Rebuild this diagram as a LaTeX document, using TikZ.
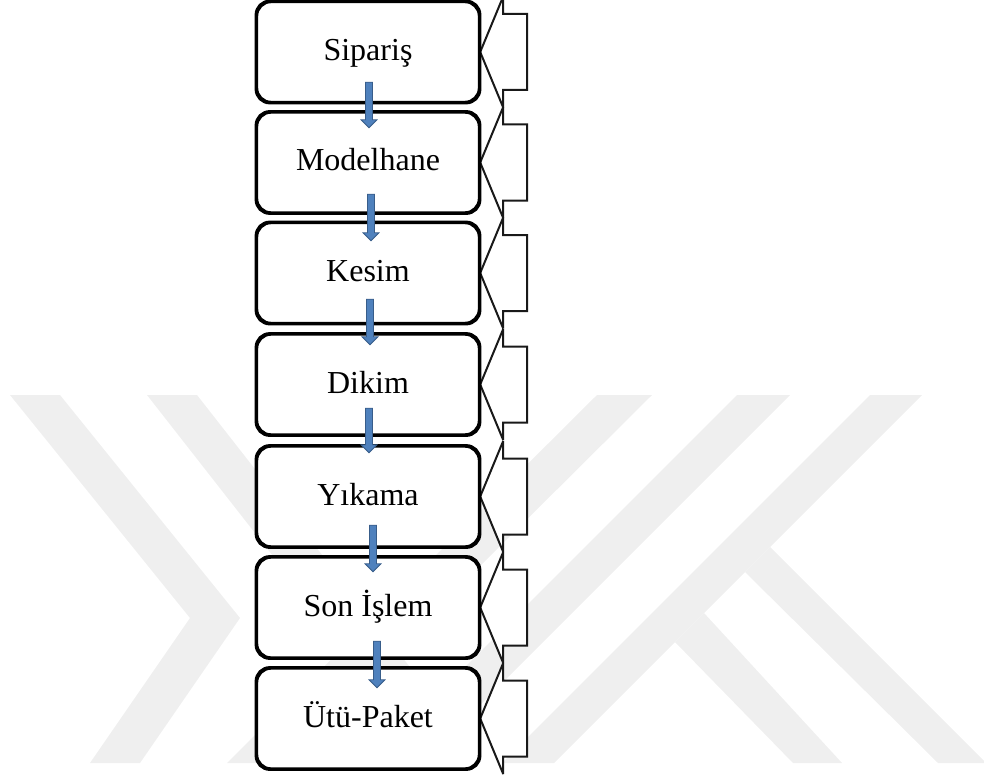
\documentclass[tikz,border=0pt]{standalone}
\usepackage{fontspec}
\setmainfont{Liberation Serif}
\usetikzlibrary{calc}

\definecolor{markgray}{RGB}{239,239,239}
\definecolor{arrowfill}{RGB}{79,129,189}
\definecolor{arrowline}{RGB}{56,93,138}

\tikzset{
  stagebox/.style={draw=black, line width=2.4pt, fill=white, rounded corners=14pt,
    minimum width=222pt, minimum height=100pt, inner sep=0pt,
    text height=22pt, text depth=5pt,
    font=\fontsize{32pt}{38pt}\selectfont},
  sidecallout/.style={draw=black!90, line width=2pt, fill=white, line join=miter, miter limit=4},
  blockarrow/.style={fill=arrowfill, draw=arrowline, line width=0.8pt, line join=miter},
  markband/.style={fill=markgray, draw=none}
}

% block arrow: #1 source node, #2 target node, #3 x shift,
% #4 start above #1.south, #5 tip below #2.north
\newcommand\flowarrow[5]{%
  \path let \p1=($(#1.south)+(#3,#4)$), \p2=($(#2.north)+(#3,-#5)$) in
    [blockarrow] (\x1-3.5pt,\y1) -- (\x1+3.5pt,\y1) -- (\x1+3.5pt,\y2+8pt)
    -- (\x1+8pt,\y2+8pt) -- (\x1,\y2) -- (\x1-8pt,\y2+8pt)
    -- (\x1-3.5pt,\y2+8pt) -- cycle;}

% left-pointing callout on the right side of a stage box
\newcommand\sidetag[1]{%
  \draw[sidecallout] (#1.east) -- ++(23pt,55.5pt) -- ++(0pt,-17.5pt)
    -- ++(24pt,0pt) -- ++(0pt,-76pt) -- ++(-24pt,0pt) -- ++(0pt,-17.5pt) -- cycle;}

\begin{document}
\begin{tikzpicture}[x=1pt,y=-1pt]
\useasboundingbox (0,0) rectangle (984,778);

% background logo bands
\fill[markband] (10,395) -- (60,395) -- (240,618) -- (140,763) -- (90,763) -- (190,618) -- cycle;
\fill[markband] (147,395) -- (197,395) -- (420,680) -- (370,680) -- cycle;
\fill[markband] (597,395) -- (652,395) -- (282,763) -- (227,763) -- cycle;
\fill[markband] (737,395) -- (790,395) -- (422,763) -- (369,763) -- cycle;
\fill[markband] (870,395) -- (922,395) -- (554,763) -- (502,763) -- cycle;
\fill[markband] (770,547) -- (986,763) -- (938,763) -- (745,572) -- cycle;
\fill[markband] (704,613) -- (842,763) -- (793,763) -- (675,642) -- cycle;

% stage boxes
\node[stagebox] (s1) at (368,52)    {Sipariş};
\node[stagebox] (s2) at (368,162.5) {Modelhane};
\node[stagebox] (s3) at (368,273)   {Kesim};
\node[stagebox] (s4) at (368,384.5) {Dikim};
\node[stagebox] (s5) at (368,496.5) {Yıkama};
\node[stagebox] (s6) at (368,607.5) {Son İşlem};
\node[stagebox] (s7) at (368,718.5) {Ütü-Paket};

% callouts
\foreach \s in {s1,s2,s3,s4,s5,s6,s7} {\sidetag{\s}}

% redraw boxes over the callout tips
\foreach \s in {s1,s2,s3,s4,s5,s6,s7} {
  \draw[line width=2.4pt, rounded corners=14pt] (\s.south west) rectangle (\s.north east);}

% flow arrows
\flowarrow{s1}{s2}{1pt}{21pt}{16.5pt}
\flowarrow{s2}{s3}{3pt}{19.5pt}{19pt}
\flowarrow{s3}{s4}{2pt}{25pt}{11.5pt}
\flowarrow{s4}{s5}{1pt}{27.5pt}{7.5pt}
\flowarrow{s5}{s6}{5pt}{22.5pt}{15.5pt}
\flowarrow{s6}{s7}{9pt}{17.5pt}{20.5pt}
\end{tikzpicture}
\end{document}
